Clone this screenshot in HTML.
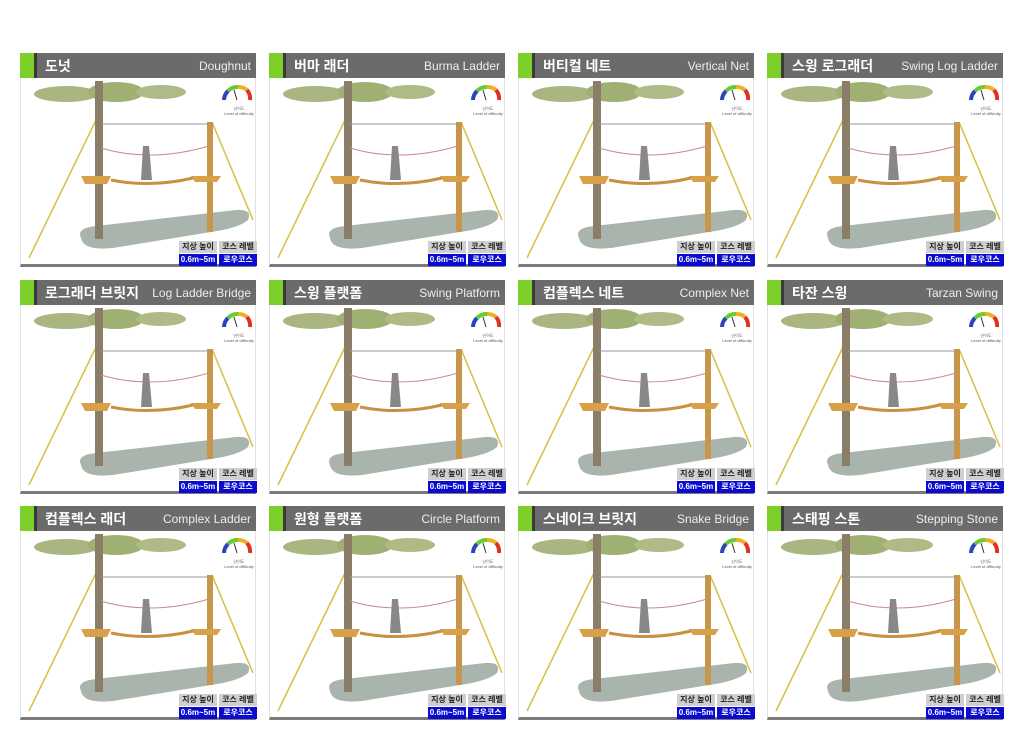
<!DOCTYPE html>
<html><head><meta charset="utf-8"><style>
body{margin:0;width:1024px;height:730px;background:#fff;position:relative;overflow:hidden;font-family:"Liberation Sans","Noto Sans CJK KR",sans-serif}
.c{position:absolute;width:236px;height:214px;box-sizing:border-box;border:1px solid #e2e2e2;border-bottom:3px solid #7a7a7a;background:#fff}
.h{position:absolute;left:-1px;top:-1px;width:236px;height:25px;background:#6b6b6b;color:#fff}
.h:before{content:"";position:absolute;left:0;top:0;width:14px;height:25px;background:#7dd02a}
.h:after{content:"";position:absolute;left:14px;top:0;width:3px;height:25px;background:#3a3a3a}
.k{position:absolute;left:25px;top:3px;font-size:14px;font-weight:bold}
.e{position:absolute;right:5px;top:6px;font-size:12px;color:#eee}
svg{position:absolute;left:0;top:24px}
.l{position:absolute;height:12px;width:38px;font-size:8px;font-weight:bold;text-align:center;line-height:12px}
.g{background:#cfcfcf;color:#222;top:187px}
.b{background:#0a0ad0;color:#fff;top:200px;height:12px}
.d{position:absolute;left:200px;top:52px;width:36px;font-size:4px;color:#555;text-align:center;line-height:5px}
</style></head><body>
<svg width="0" height="0" style="position:absolute"><defs><symbol id="s" viewBox="0 0 236 190">
<ellipse cx="45" cy="16" rx="32" ry="8" fill="#a9b681"/><ellipse cx="95" cy="14" rx="28" ry="10" fill="#9fb072"/><ellipse cx="140" cy="14" rx="25" ry="7" fill="#aebb86"/>
<path d="M60 160 Q55 150 75 148 L215 132 Q232 131 227 142 Q218 150 190 154 L92 170 Q62 173 60 160Z" fill="#a9b5ac"/>
<line x1="76" y1="40" x2="8" y2="180" stroke="#d8c040" stroke-width="1.5"/>
<line x1="191" y1="44" x2="232" y2="142" stroke="#d8c040" stroke-width="1.5"/>
<rect x="74" y="3" width="8" height="158" fill="#8a7e68"/>
<rect x="186" y="44" width="6" height="110" fill="#c8964a"/>
<line x1="80" y1="46" x2="188" y2="46" stroke="#999"/>
<path d="M80 70 Q130 85 188 68" stroke="#c88" fill="none"/>
<path d="M60 98 L90 98 L86 106 L64 106Z M170 98 L200 98 L196 104 L174 104Z" fill="#d8a048"/>
<path d="M90 102 Q130 110 172 100" stroke="#c89040" stroke-width="3" fill="none"/>
<path d="M122 68 l6 0 l3 34 l-11 0z" fill="#888"/>
<path d="M203 22 a13 13 0 0 1 4 -9" stroke="#2a44c0" stroke-width="4" fill="none"/>
<path d="M207 13 a13 13 0 0 1 10 -4" stroke="#6c3" stroke-width="4" fill="none"/>
<path d="M217 9 a13 13 0 0 1 9 3" stroke="#f0b020" stroke-width="4" fill="none"/>
<path d="M226 12 a13 13 0 0 1 3 10" stroke="#e03020" stroke-width="4" fill="none"/>
<line x1="216" y1="22" x2="213" y2="12" stroke="#333"/>
</symbol></defs></svg>
<div class="c" style="left:20px;top:53px"><div class="h"><span class="k">도넛</span><span class="e">Doughnut</span></div><svg width="236" height="190"><use href="#s"/></svg><div class="d">난이도<br>Level of difficulty</div><div class="l g" style="left:158px">지상 높이</div><div class="l g" style="left:198px">코스 레벨</div><div class="l b" style="left:158px">0.6m~5m</div><div class="l b" style="left:198px">로우코스</div></div>
<div class="c" style="left:269px;top:53px"><div class="h"><span class="k">버마 래더</span><span class="e">Burma Ladder</span></div><svg width="236" height="190"><use href="#s"/></svg><div class="d">난이도<br>Level of difficulty</div><div class="l g" style="left:158px">지상 높이</div><div class="l g" style="left:198px">코스 레벨</div><div class="l b" style="left:158px">0.6m~5m</div><div class="l b" style="left:198px">로우코스</div></div>
<div class="c" style="left:518px;top:53px"><div class="h"><span class="k">버티컬 네트</span><span class="e">Vertical Net</span></div><svg width="236" height="190"><use href="#s"/></svg><div class="d">난이도<br>Level of difficulty</div><div class="l g" style="left:158px">지상 높이</div><div class="l g" style="left:198px">코스 레벨</div><div class="l b" style="left:158px">0.6m~5m</div><div class="l b" style="left:198px">로우코스</div></div>
<div class="c" style="left:767px;top:53px"><div class="h"><span class="k">스윙 로그래더</span><span class="e">Swing Log Ladder</span></div><svg width="236" height="190"><use href="#s"/></svg><div class="d">난이도<br>Level of difficulty</div><div class="l g" style="left:158px">지상 높이</div><div class="l g" style="left:198px">코스 레벨</div><div class="l b" style="left:158px">0.6m~5m</div><div class="l b" style="left:198px">로우코스</div></div>
<div class="c" style="left:20px;top:280px"><div class="h"><span class="k">로그래더 브릿지</span><span class="e">Log Ladder Bridge</span></div><svg width="236" height="190"><use href="#s"/></svg><div class="d">난이도<br>Level of difficulty</div><div class="l g" style="left:158px">지상 높이</div><div class="l g" style="left:198px">코스 레벨</div><div class="l b" style="left:158px">0.6m~5m</div><div class="l b" style="left:198px">로우코스</div></div>
<div class="c" style="left:269px;top:280px"><div class="h"><span class="k">스윙 플랫폼</span><span class="e">Swing Platform</span></div><svg width="236" height="190"><use href="#s"/></svg><div class="d">난이도<br>Level of difficulty</div><div class="l g" style="left:158px">지상 높이</div><div class="l g" style="left:198px">코스 레벨</div><div class="l b" style="left:158px">0.6m~5m</div><div class="l b" style="left:198px">로우코스</div></div>
<div class="c" style="left:518px;top:280px"><div class="h"><span class="k">컴플렉스 네트</span><span class="e">Complex Net</span></div><svg width="236" height="190"><use href="#s"/></svg><div class="d">난이도<br>Level of difficulty</div><div class="l g" style="left:158px">지상 높이</div><div class="l g" style="left:198px">코스 레벨</div><div class="l b" style="left:158px">0.6m~5m</div><div class="l b" style="left:198px">로우코스</div></div>
<div class="c" style="left:767px;top:280px"><div class="h"><span class="k">타잔 스윙</span><span class="e">Tarzan Swing</span></div><svg width="236" height="190"><use href="#s"/></svg><div class="d">난이도<br>Level of difficulty</div><div class="l g" style="left:158px">지상 높이</div><div class="l g" style="left:198px">코스 레벨</div><div class="l b" style="left:158px">0.6m~5m</div><div class="l b" style="left:198px">로우코스</div></div>
<div class="c" style="left:20px;top:506px"><div class="h"><span class="k">컴플렉스 래더</span><span class="e">Complex Ladder</span></div><svg width="236" height="190"><use href="#s"/></svg><div class="d">난이도<br>Level of difficulty</div><div class="l g" style="left:158px">지상 높이</div><div class="l g" style="left:198px">코스 레벨</div><div class="l b" style="left:158px">0.6m~5m</div><div class="l b" style="left:198px">로우코스</div></div>
<div class="c" style="left:269px;top:506px"><div class="h"><span class="k">원형 플랫폼</span><span class="e">Circle Platform</span></div><svg width="236" height="190"><use href="#s"/></svg><div class="d">난이도<br>Level of difficulty</div><div class="l g" style="left:158px">지상 높이</div><div class="l g" style="left:198px">코스 레벨</div><div class="l b" style="left:158px">0.6m~5m</div><div class="l b" style="left:198px">로우코스</div></div>
<div class="c" style="left:518px;top:506px"><div class="h"><span class="k">스네이크 브릿지</span><span class="e">Snake Bridge</span></div><svg width="236" height="190"><use href="#s"/></svg><div class="d">난이도<br>Level of difficulty</div><div class="l g" style="left:158px">지상 높이</div><div class="l g" style="left:198px">코스 레벨</div><div class="l b" style="left:158px">0.6m~5m</div><div class="l b" style="left:198px">로우코스</div></div>
<div class="c" style="left:767px;top:506px"><div class="h"><span class="k">스태핑 스톤</span><span class="e">Stepping Stone</span></div><svg width="236" height="190"><use href="#s"/></svg><div class="d">난이도<br>Level of difficulty</div><div class="l g" style="left:158px">지상 높이</div><div class="l g" style="left:198px">코스 레벨</div><div class="l b" style="left:158px">0.6m~5m</div><div class="l b" style="left:198px">로우코스</div></div>
</body></html>
